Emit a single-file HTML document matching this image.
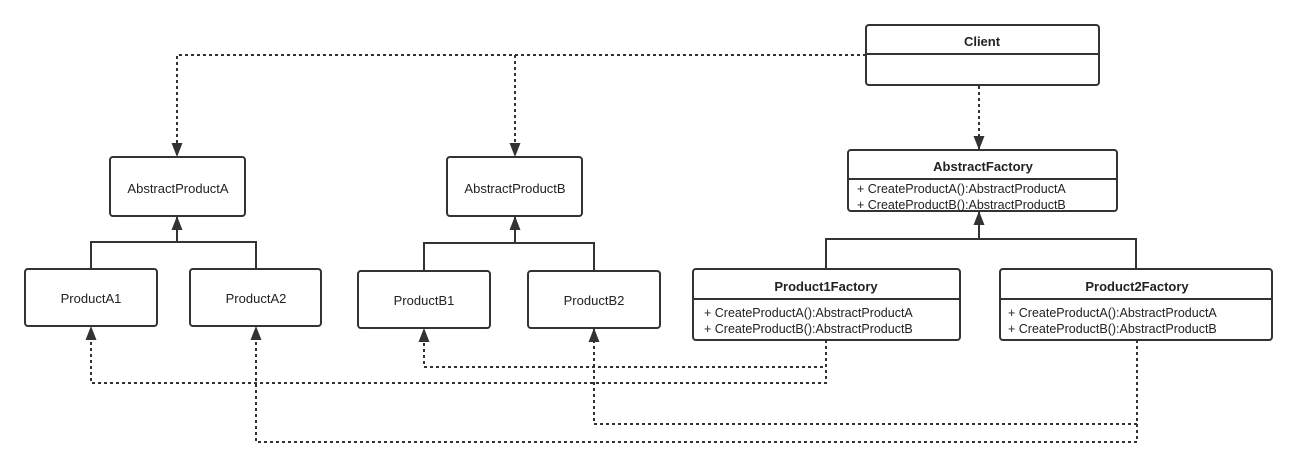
<!DOCTYPE html>
<html><head><meta charset="utf-8"><style>
html,body{margin:0;padding:0;background:#fff;}
svg{display:block;font-family:"Liberation Sans","Noto Sans CJK SC",sans-serif;}
</style></head><body>
<svg width="1290" height="467" viewBox="0 0 1290 467" xmlns="http://www.w3.org/2000/svg">
<defs>
<marker id="ar" markerWidth="15" markerHeight="12" refX="14" refY="5.5" orient="auto" markerUnits="userSpaceOnUse">
<path d="M0,0 L14,5.5 L0,11 Z" fill="#333"/>
</marker>
</defs>
<g fill="none" stroke="#333" stroke-width="2" stroke-dasharray="3,3">
<path d="M866,55 H177 V157" marker-end="url(#ar)"/>
<path d="M515,55 V157" marker-end="url(#ar)"/>
<path d="M979,86 V150" marker-end="url(#ar)"/>
<path d="M826,340 V367 H424 V328" marker-end="url(#ar)"/>
<path d="M826,340 V383 H91 V326" marker-end="url(#ar)"/>
<path d="M1137,340 V424 H594 V328" marker-end="url(#ar)"/>
<path d="M1137,340 V442 H256 V326" marker-end="url(#ar)"/>
</g>
<g fill="none" stroke="#333" stroke-width="2">
<path d="M91,269 V242 H256 V269 M177,242 V216" marker-end="url(#ar)"/>
<path d="M424,271 V243 H594 V271 M515,243 V216" marker-end="url(#ar)"/>
<path d="M826,269 V239 H1136 V269 M979,239 V211" marker-end="url(#ar)"/>
</g>
<g fill="#fff" stroke="#333" stroke-width="2">
<rect x="866" y="25" width="233" height="60" rx="3"/>
<line x1="866" y1="54" x2="1099" y2="54"/>
<rect x="110" y="157" width="135" height="59" rx="3"/>
<rect x="447" y="157" width="135" height="59" rx="3"/>
<rect x="25" y="269" width="132" height="57" rx="3"/>
<rect x="190" y="269" width="131" height="57" rx="3"/>
<rect x="358" y="271" width="132" height="57" rx="3"/>
<rect x="528" y="271" width="132" height="57" rx="3"/>
<rect x="848" y="150" width="269" height="61" rx="3"/>
<line x1="848" y1="179" x2="1117" y2="179"/>
<rect x="693" y="269" width="267" height="71" rx="3"/>
<line x1="693" y1="299" x2="960" y2="299"/>
<rect x="1000" y="269" width="272" height="71" rx="3"/>
<line x1="1000" y1="299" x2="1272" y2="299"/>
</g>
<g fill="#222" font-size="13" text-anchor="middle">
<text x="982" y="46" font-weight="bold">Client</text>
<text x="178" y="193">AbstractProductA</text>
<text x="515" y="193">AbstractProductB</text>
<text x="91" y="303">ProductA1</text>
<text x="256" y="303">ProductA2</text>
<text x="424" y="305">ProductB1</text>
<text x="594" y="305">ProductB2</text>
<text x="983" y="171" font-weight="bold">AbstractFactory</text>
<text x="826" y="291" font-weight="bold">Product1Factory</text>
<text x="1137" y="291" font-weight="bold">Product2Factory</text>
</g>
<g fill="#222" font-size="12.5">
<text x="857" y="193">+ CreateProductA():AbstractProductA</text>
<text x="857" y="209">+ CreateProductB():AbstractProductB</text>
<text x="704" y="317">+ CreateProductA():AbstractProductA</text>
<text x="704" y="333">+ CreateProductB():AbstractProductB</text>
<text x="1008" y="317">+ CreateProductA():AbstractProductA</text>
<text x="1008" y="333">+ CreateProductB():AbstractProductB</text>
</g>
</svg>
</body></html>
